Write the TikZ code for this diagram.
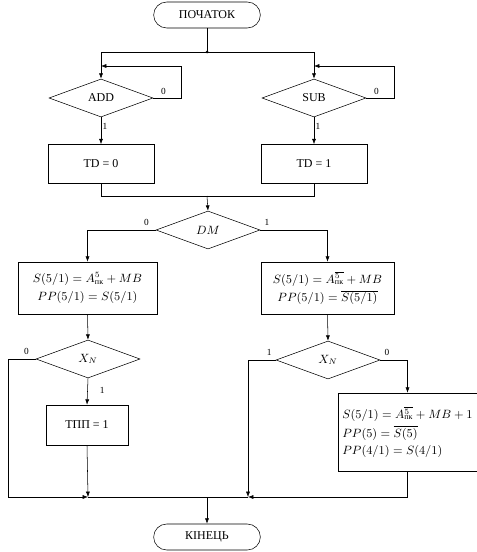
\documentclass[tikz,border=0pt]{standalone}
\usepackage{amsmath}
\usepackage{fontspec}
\setmainfont{Liberation Serif}
\usetikzlibrary{shapes.geometric,arrows.meta,positioning,calc}

\begin{document}
\begin{tikzpicture}[
  x=0.75pt, y=-0.75pt,
  term/.style={draw,rounded corners=9.75pt,minimum width=80pt,
               minimum height=19.5pt,font=\fontsize{9}{11}\selectfont},
  cond/.style={draw,diamond,aspect=2.7,minimum width=78pt,
               minimum height=28.5pt,inner sep=0pt,font=\fontsize{9}{11}\selectfont},
  proc/.style={draw,minimum width=79.5pt,minimum height=29.25pt,
               align=center,font=\fontsize{9}{11}\selectfont},
  lbl/.style={font=\fontsize{7}{8}\selectfont,inner sep=1pt},
  arr/.style={-{Latex[length=4pt,width=3pt]},thin},
  ln/.style={thin}
]
\useasboundingbox (0,0) rectangle (477,552);

% --- start / end ---
\node[term] (start) at (207,15)  {ПОЧАТОК};
\node[term] (kin)   at (207,537) {КІНЕЦЬ};

% --- wait for ADD / SUB ---
\node[cond] (add) at (101,98) {ADD};
\node[cond] (sub) at (314,98) {SUB};
\node[proc] (td0) at (101,164) {TD = 0};
\node[proc] (td1) at (314,164) {TD = 1};

% --- DM ---
\node[cond] (dm) at (208,230) {$DM$};
\node[proc,minimum width=104.25pt,minimum height=39pt] (lbox) at (87.5,288)
  {$S(5/1) = A^{5}_{\text{пк}} + MB$\\[3pt] $PP(5/1) = S(5/1)$};
\node[proc,minimum width=99.75pt,minimum height=39pt] (rbox) at (327.5,288)
  {$S(5/1) = A\overline{{}^{5}_{\text{пк}}} + MB$\\[3pt] $PP(5/1) = \overline{S(5/1)}$};

% --- X_N ---
\node[cond] (lx) at (88,359)  {$X_N$};
\node[cond] (rx) at (328,360) {$X_N$};
\node[proc,minimum width=61.5pt,minimum height=30pt] (tpp) at (87,425) {ТПП = 1};
\node[proc,align=left,minimum width=99.75pt,minimum height=58.5pt] (rbox2) at (407.5,432)
  {$S(5/1) = A\overline{{}^{5}_{\text{пк}}} + MB + 1$\\[3pt]
   $PP(5) = \overline{S(5)}$\\[2pt]
   $PP(4/1) = S(4/1)$};

% --- points on the lines ---
\coordinate (j1) at (207,52);
\coordinate (j2) at (207,196);
\coordinate (j3) at (207,497);
\coordinate (addin)  at (101,66);
\coordinate (addlp)  at (181,66);
\coordinate (subin)  at (314,66);
\coordinate (sublp)  at (394,66);
\coordinate (lc) at (8,497);
\coordinate (bl) at (88,497);
\coordinate (br) at (248,497);

% --- lines ---
\draw[ln] (start.south) -- (j1);
\fill (j1) circle (1.5);
\draw[arr] (j1) -| (add.north);
\draw[arr] (j1) -| (sub.north);
\draw[arr] (add.east) -| node[lbl,pos=0.4,above left=1pt and 6pt]{0} (addlp) -- (addin);
\draw[arr] (sub.east) -| node[lbl,pos=0.4,above left=1pt and 6pt]{0} (sublp) -- (subin);
\draw[arr] (add.south) -- node[lbl,right,pos=0.35]{1} (td0.north);
\draw[arr] (sub.south) -- node[lbl,right,pos=0.35]{1} (td1.north);
\draw[ln] (td0.south) |- (j2);
\draw[ln] (td1.south) |- (j2);
\draw[arr] (j2) -- (dm.north);

\draw[arr] (dm.west) -| (lbox.north);
\draw[arr] (dm.east) -| (rbox.north);
\node[lbl,above left=2pt and 4pt of dm.west] (dm0) {0};
\node[lbl,above right=2pt and 2pt of dm.east] (dm1) {1};

\draw[arr] (lbox.south) -- (lx.north);
\draw[arr] (rbox.south) -- (rx.north);
\draw[arr] (lx.south) -- node[lbl,right=8pt,pos=0.45]{1} (tpp.north);
\draw[arr] (lx.west) -| (lc) -- (bl);
\node[lbl,above left=2pt and 4pt of lx.west] (lx0) {0};
\draw[arr] (tpp.south) -- (bl);
\draw[arr] (rx.west) -| (br);
\node[lbl,above left=2pt and 2pt of rx.west] (rx1) {1};
\draw[arr] (rx.east) -| (rbox2.north);
\node[lbl,above right=2pt and 2pt of rx.east] (rx0) {0};
\draw[arr] (rbox2.south) |- (br);
\draw[ln] (bl) -- (br);
\draw[arr] (j3) -- (kin.north);
\end{tikzpicture}
\end{document}
